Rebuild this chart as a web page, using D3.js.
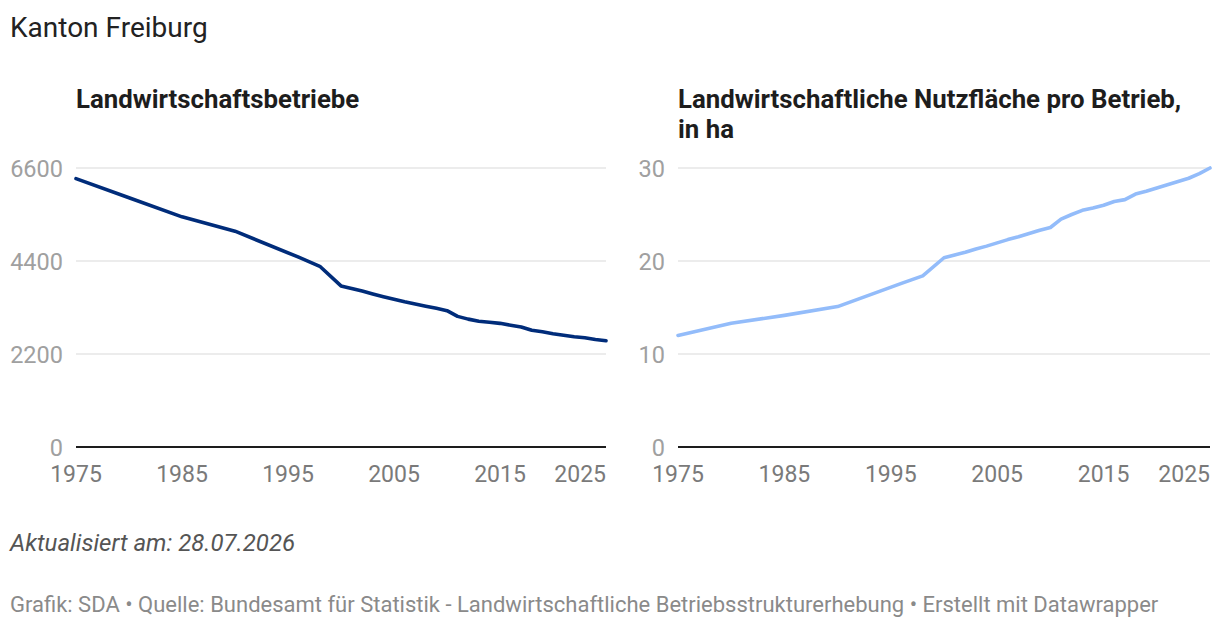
<!DOCTYPE html>
<html>
<head>
<meta charset="utf-8">
<script src="https://cdn.jsdelivr.net/npm/d3@7"></script>
<style>
    body { margin: 0; background: #fff; font-family: Roboto, "Noto Sans", sans-serif; }
    svg text { font-family: Roboto, "Noto Sans", sans-serif; }
</style>
</head>
<body>
<svg id="chart" width="1220" height="630"></svg>
<script>
// years with data points (sparse before 2000)
const years = [1975, 1980, 1985, 1990, 1996, 1998, 2000, 2001, 2002, 2003, 2004, 2005,
    2006, 2007, 2008, 2009, 2010, 2011, 2012, 2013, 2014, 2015, 2016, 2017, 2018,
    2019, 2020, 2021, 2022, 2023, 2024, 2025];

// Landwirtschaftsbetriebe
const betriebe = [6350, 5895, 5445, 5105, 4490, 4275, 3810, 3750, 3690, 3620, 3555, 3495,
    3435, 3385, 3330, 3280, 3225, 3090, 3025, 2975, 2950, 2925, 2880, 2840, 2760,
    2725, 2680, 2645, 2610, 2585, 2545, 2515];

// Nutzfläche pro Betrieb, ha
const flaeche = [12.0, 13.3, 14.15, 15.1, 17.6, 18.4, 20.35, 20.65, 20.95, 21.3, 21.6, 21.95,
    22.3, 22.6, 22.95, 23.3, 23.6, 24.5, 25.0, 25.45, 25.7, 26.0, 26.4, 26.6, 27.2,
    27.5, 27.85, 28.2, 28.55, 28.9, 29.4, 30.0];

const xTicks = [1975, 1985, 1995, 2005, 2015, 2025];
const yTicksLeft = [0, 2200, 4400, 6600];
const yTicksRight = [0, 10, 20, 30];

const svg = d3.select("#chart");

svg.append("text")
    .attr("x", 10).attr("y", 37)
    .attr("font-size", "28px")
    .attr("fill", "#222")
    .text("Kanton Freiburg");

/**
 * Draws one small line panel
 */
function drawPanel(opts) {
    const g = svg.append("g");
    const x = d3.scaleLinear().domain([1975, 2025]).range([opts.left, opts.right]);
    const y = d3.scaleLinear().domain([0, opts.yTicks[opts.yTicks.length - 1]]).range([447, 168]);

    // title lines
    opts.title.forEach((t, i) => {
        g.append("text")
            .attr("x", opts.left).attr("y", 108 + i * 30)
            .attr("font-size", "25.8px")
            .attr("font-weight", 700)
            .attr("fill", "#1d1d1d")
            .text(t);
    });

    // gridlines
    g.selectAll(".grid")
        .data(opts.yTicks.filter(d => d !== 0))
        .join("line")
        .attr("x1", opts.left).attr("x2", opts.right)
        .attr("y1", d => y(d)).attr("y2", d => y(d))
        .attr("stroke", "#e6e6e6")
        .attr("stroke-width", 1.5);

    // y labels
    g.selectAll(".ylab")
        .data(opts.yTicks)
        .join("text")
        .attr("x", opts.left - 13)
        .attr("y", d => y(d) + 8.5)
        .attr("text-anchor", "end")
        .attr("font-size", "23.5px")
        .attr("fill", "#a0a0a0")
        .text(d => d);

    // baseline
    g.append("line")
        .attr("x1", opts.left).attr("x2", opts.right)
        .attr("y1", y(0)).attr("y2", y(0))
        .attr("stroke", "#1d1d1d")
        .attr("stroke-width", 2);

    // x labels, last one kept inside the panel
    g.selectAll(".xlab")
        .data(xTicks)
        .join("text")
        .attr("x", d => d === 2025 ? opts.right : x(d))
        .attr("y", 482)
        .attr("text-anchor", d => d === 2025 ? "end" : "middle")
        .attr("font-size", "23px")
        .attr("fill", "#7a7a7a")
        .text(d => d);

    const line = d3.line()
        .x((d, i) => x(years[i]))
        .y(d => y(d));

    g.append("path")
        .datum(opts.values)
        .attr("d", line)
        .attr("fill", "none")
        .attr("stroke", opts.color)
        .attr("stroke-width", 3.6)
        .attr("stroke-linejoin", "round")
        .attr("stroke-linecap", "round");
}

drawPanel({
    left: 76, right: 606,
    title: ["Landwirtschaftsbetriebe"],
    yTicks: yTicksLeft,
    values: betriebe,
    color: "#002c7a"
});

drawPanel({
    left: 678, right: 1210,
    title: ["Landwirtschaftliche Nutzfläche pro Betrieb,", "in ha"],
    yTicks: yTicksRight,
    values: flaeche,
    color: "#93bcfa"
});

svg.append("text")
    .attr("x", 10).attr("y", 551)
    .attr("font-size", "24px")
    .attr("font-style", "italic")
    .attr("fill", "#555")
    .text("Aktualisiert am: 28.07.2026");

svg.append("text")
    .attr("x", 10).attr("y", 612)
    .attr("font-size", "22px")
    .attr("fill", "#8a8a8a")
    .text("Grafik: SDA • Quelle: Bundesamt für Statistik - Landwirtschaftliche Betriebsstrukturerhebung • Erstellt mit Datawrapper");
</script>
</body>
</html>
